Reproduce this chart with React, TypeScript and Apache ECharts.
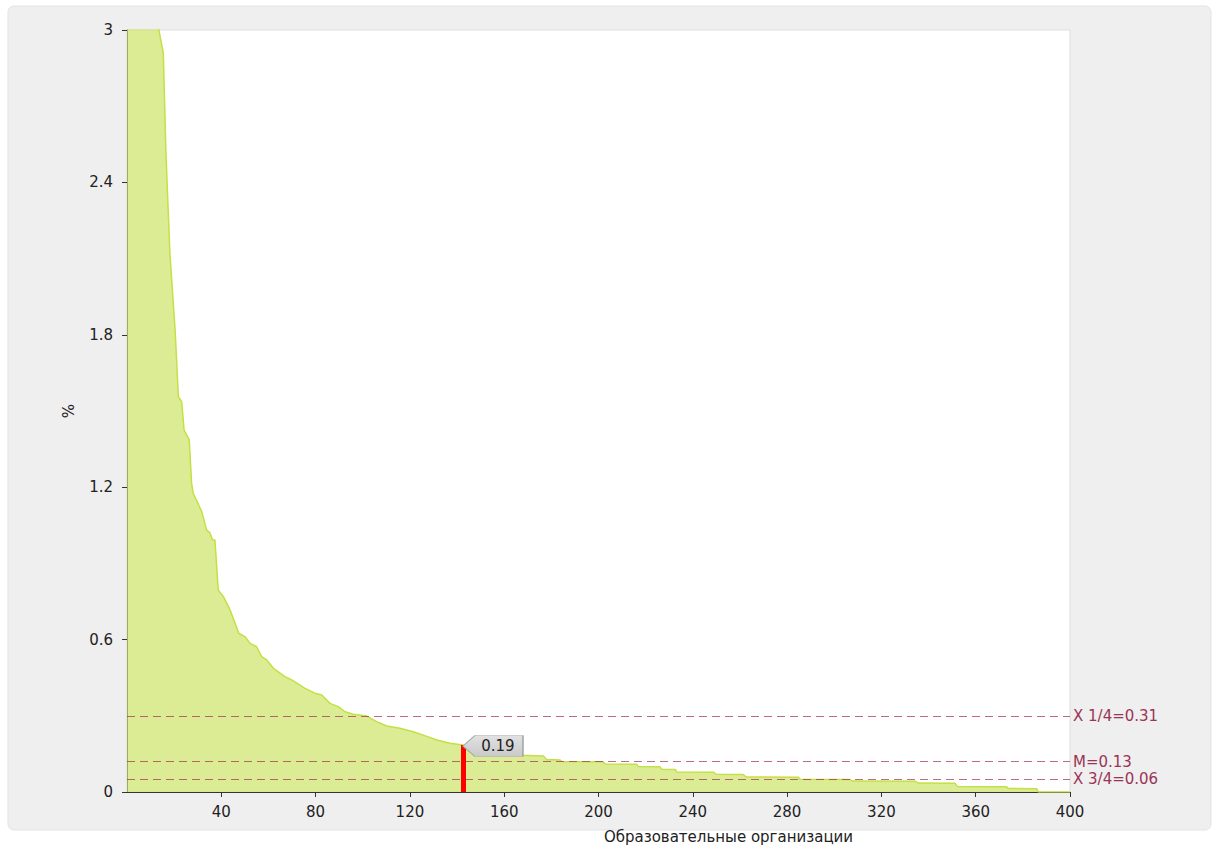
import React, { useEffect, useRef } from "react";
import * as echarts from "echarts";

// Organization position (x) and share in % (y)
const orgIndex = [
  0, 5, 10, 13.5, 15.4, 16.5, 18.2, 20.4, 21.8, 23.2, 24.2, 26.4, 27.4, 28.1, 31.7, 33.8, 35.2, 36.3,
  37.3, 38.7, 40.9, 43.7, 45.8, 47.4, 50.1, 52.2, 55.0, 57.1, 59.3, 62.1, 67.0, 69.9, 75.5, 79.7,
  82.6, 86.1, 89.6, 92.5, 96.0, 101.7, 105.9, 110.2, 115.8, 121.4, 125.7, 131.4, 137.0, 142.5, 150,
  160, 167.4, 176.6, 178.0, 183.7, 184.4, 202.0, 202.8, 216.2, 216.9, 226.1, 226.8, 232.5, 233.2,
  248.7, 249.8, 261.4, 262.6, 284.8, 285.5, 306.7, 307.8, 334.3, 335.7, 351.2, 352.2, 373.1, 373.8,
  385.9, 386.5, 400,
];
const shareValues = [
  5.5, 4.2, 3.4, 3.0, 2.91, 2.52, 2.12, 1.82, 1.556, 1.537, 1.425, 1.386, 1.215, 1.176, 1.104, 1.031,
  1.02, 0.992, 0.992, 0.795, 0.769, 0.717, 0.665, 0.625, 0.611, 0.585, 0.572, 0.533, 0.52, 0.487,
  0.454, 0.441, 0.408, 0.389, 0.382, 0.349, 0.336, 0.316, 0.306, 0.299, 0.277, 0.26, 0.251, 0.237,
  0.224, 0.205, 0.192, 0.185, 0.17, 0.155, 0.145, 0.142, 0.128, 0.126, 0.12, 0.119, 0.11, 0.109, 0.1,
  0.099, 0.09, 0.089, 0.079, 0.078, 0.07, 0.069, 0.059, 0.058, 0.05, 0.049, 0.043, 0.042, 0.035,
  0.034, 0.022, 0.021, 0.014, 0.013, 0, 0,
];

// Quartile / median reference lines
const refLabels = ["X 1/4=0.31", "M=0.13", "X 3/4=0.06"];
const refValues = [0.303, 0.121, 0.052];

// Highlighted organization marker
const markerX = 142.5;
const markerValue = 0.185;
const markerLabel = "0.19";

// Axes
const xMin = 0;
const xMax = 400;
const xInterval = 40;
const yMin = 0;
const yMax = 3;
const yInterval = 0.6;
const xTitle = "Образовательные организации";
const yTitle = "%";

export default function App() {
  const ref = useRef<HTMLDivElement>(null);

  useEffect(() => {
    if (!ref.current) return;
    const chart = echarts.init(ref.current, null, { renderer: "svg" });
    const font = "DejaVu Sans";
    const fs = 15;
    const data = orgIndex.map((x, i) => [x, shareValues[i]]);

    chart.setOption({
      animation: false,
      backgroundColor: "#ffffff",
      textStyle: { fontFamily: font },
      graphic: [
        {
          type: "rect",
          z: -10,
          silent: true,
          shape: { x: 8, y: 6, width: 1203, height: 824, r: 6 },
          style: { fill: "#efefef", stroke: "#e3e3e3", lineWidth: 1 },
        },
      ],
      grid: {
        left: 127,
        right: 144,
        top: 30,
        bottom: 53,
        outerBoundsMode: "none",
        containLabel: false,
        show: true,
        backgroundColor: "#ffffff",
        borderColor: "#dedede",
        borderWidth: 1,
      },
      xAxis: {
        type: "value",
        min: xMin,
        max: xMax,
        interval: xInterval,
        splitLine: { show: false },
        axisLine: { show: true, lineStyle: { color: "#333", width: 1 } },
        axisTick: { show: true, length: 5, lineStyle: { color: "#333" } },
        axisLabel: { showMinLabel: false, color: "#222", fontSize: fs, fontFamily: font, margin: 12 },
        name: xTitle,
        nameLocation: "middle",
        nameGap: 37,
        nameTextStyle: { color: "#222", fontSize: fs, fontFamily: font, padding: [0, 0, 0, 260] },
      },
      yAxis: {
        type: "value",
        min: yMin,
        max: yMax,
        interval: yInterval,
        splitLine: { show: false },
        axisLine: { show: true, lineStyle: { color: "#333", width: 1 } },
        axisTick: { show: true, length: 5, lineStyle: { color: "#333" } },
        axisLabel: { color: "#222", fontSize: fs, fontFamily: font, margin: 14 },
        name: yTitle,
        nameLocation: "middle",
        nameGap: 51,
        nameRotate: 90,
        nameTextStyle: { color: "#222", fontSize: fs, fontFamily: font },
      },
      series: [
        {
          // reference lines, drawn beneath the translucent area
          type: "line",
          z: 1,
          data: [],
          symbol: "none",
          markLine: {
            silent: true,
            symbol: ["none", "none"],
            data: refValues.map((v, i) => ({
              yAxis: v,
              lineStyle: { color: "rgba(160,45,85,0.7)", width: 1, type: [8, 5] },
              label: {
                show: true,
                position: "end",
                distance: 3,
                formatter: refLabels[i],
                color: "#9b3556",
                fontSize: fs,
                fontFamily: font,
              },
            })),
          },
        },
        {
          type: "line",
          z: 2,
          data,
          symbol: "none",
          clip: true,
          lineStyle: { color: "#c3e044", width: 1.5 },
          areaStyle: { color: "rgb(205,228,102)", opacity: 0.7 },
          markLine: {
            silent: true,
            symbol: ["none", "none"],
            data: [
              [
                {
                  coord: [markerX, 0],
                  lineStyle: { color: "#ff0000", width: 5, type: "solid" },
                  label: { show: false },
                },
                { coord: [markerX, markerValue] },
              ],
            ],
          },
          markPoint: {
            silent: true,
            data: [{ coord: [markerX, markerValue], value: markerLabel }],
            symbol: "path://M0,10 L12,0 L60,0 L60,20 L12,20 Z",
            symbolSize: [60, 21],
            symbolOffset: [30, 1],
            itemStyle: {
              color: new echarts.graphic.LinearGradient(0, 0, 0, 1, [
                { offset: 0, color: "#e2e2e2" },
                { offset: 1, color: "#c9c9c9" },
              ]),
              borderColor: "#a9a9a9",
              borderWidth: 1,
            },
            label: {
              show: true,
              position: "inside",
              formatter: "{c}",
              color: "#222",
              fontSize: fs,
              fontFamily: font,
              offset: [5, 0],
            },
          },
        },
      ],
    });

    return () => chart.dispose();
  }, []);

  return (
    <div
      ref={ref}
      style={{ position: "absolute", left: 0, top: 0, width: 1214, height: 845 }}
    />
  );
}
